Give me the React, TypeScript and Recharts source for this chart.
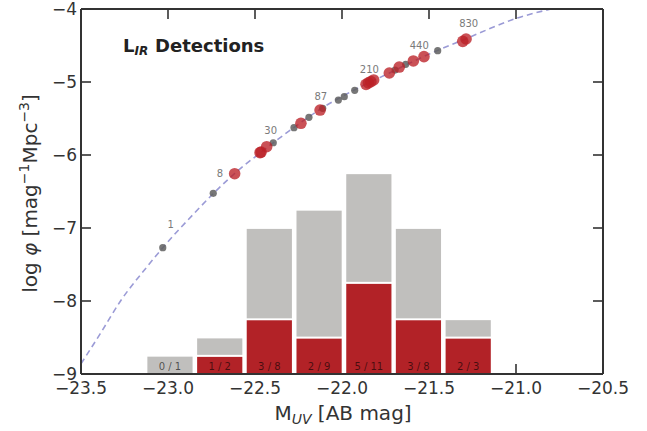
import React from "react";
import { ComposedChart, XAxis, YAxis, Bar, Line, Scatter } from "recharts";

// Histogram bins (M_UV centers) and counts
const binCenters = [-22.987, -22.701, -22.416, -22.13, -21.844, -21.559, -21.273];
const detectedCounts = [0, 1, 3, 2, 5, 3, 2];
const totalCounts = [1, 2, 8, 9, 11, 8, 3];

// Dashed luminosity function curve
const curveM = [-23.5, -23.39, -23.27, -23.12, -23.03, -22.85, -22.74, -22.62, -22.47, -22.28, -22.13, -21.93, -21.73, -21.53, -21.29, -21.0, -20.8];
const curvePhi = [-8.86, -8.45, -7.99, -7.53, -7.27, -6.8, -6.53, -6.26, -5.97, -5.63, -5.38, -5.11, -4.88, -4.65, -4.41, -4.13, -4.0];

// Gray (all) points
const grayM = [-23.03, -22.74, -22.395, -22.276, -22.19, -22.111, -22.021, -21.987, -21.927, -21.695, -21.634, -21.45];
const grayPhi = [-7.27, -6.525, -5.832, -5.626, -5.484, -5.36, -5.247, -5.201, -5.114, -4.836, -4.758, -4.571];

// Red (detected) points
const redM = [-22.617, -22.471, -22.465, -22.433, -22.236, -22.126, -21.862, -21.848, -21.834, -21.818, -21.728, -21.671, -21.59, -21.529, -21.306, -21.287];
const redPhi = [-6.256, -5.968, -5.96, -5.886, -5.566, -5.384, -5.032, -5.012, -4.995, -4.972, -4.877, -4.795, -4.712, -4.653, -4.443, -4.411];

// Annotation labels near the curve
const annText = ["1", "8", "30", "87", "210", "440", "830"];
const annM = [-22.985, -22.701, -22.41, -22.122, -21.843, -21.556, -21.272];
const annPhi = [-6.949, -6.256, -5.671, -5.201, -4.822, -4.497, -4.205];

const xTicks = [-23.5, -23.0, -22.5, -22.0, -21.5, -21.0, -20.5];
const yTicks = [-9, -8, -7, -6, -5, -4];

const histData = binCenters.map((m, i) => ({
  m,
  det: detectedCounts[i],
  rest: totalCounts[i] - detectedCounts[i],
  label: `${detectedCounts[i]} / ${totalCounts[i]}`,
}));
const curveData = curveM.map((m, i) => ({ m, phi: curvePhi[i] }));
const grayData = grayM.map((m, i) => ({ m, phi: grayPhi[i] }));
const redData = redM.map((m, i) => ({ m, phi: redPhi[i] }));
const annData = annM.map((m, i) => ({ m, phi: annPhi[i], t: annText[i] }));

const binWidth = binCenters[1] - binCenters[0];
const underBar = (v: number) => binCenters.some((c) => Math.abs(v - c) < binWidth / 2);

const AX = "#333333";
const FONT = "DejaVu Sans, sans-serif";
const minus = (v: number, d: number) => (v < 0 ? "\u2212" : "") + Math.abs(v).toFixed(d);

const BottomTick = (p: any) => (
  <g>
    {!underBar(p.payload.value) && (
      <line x1={p.x} x2={p.x} y1={p.y} y2={p.y - 10} stroke={AX} strokeWidth={1.6} />
    )}
    <text x={p.x} y={p.y + 20} textAnchor="middle" fontSize={17} fill={AX} fontFamily={FONT}>
      {minus(p.payload.value, 1)}
    </text>
  </g>
);
const TopTick = (p: any) => (
  <line x1={p.x} x2={p.x} y1={p.y} y2={p.y + 10} stroke={AX} strokeWidth={1.6} />
);
const LeftTick = (p: any) => (
  <g>
    <line x1={p.x} x2={p.x + 10} y1={p.y} y2={p.y} stroke={AX} strokeWidth={1.6} />
    <text x={p.x - 4} y={p.y} dy="0.36em" textAnchor="end" fontSize={17} fill={AX} fontFamily={FONT}>
      {minus(p.payload.value, 0)}
    </text>
  </g>
);
const RightTick = (p: any) => (
  <line x1={p.x} x2={p.x - 10} y1={p.y} y2={p.y} stroke={AX} strokeWidth={1.6} />
);

const RedBar = (p: any) =>
  p.height > 0 ? (
    <rect x={p.x} y={p.y} width={p.width} height={p.height} fill="#b22227" stroke="#ffffff" strokeWidth={1.8} />
  ) : null;

const GrayBar = (p: any) => {
  const bottom = p.background ? p.background.y + p.background.height : p.y + p.height;
  return (
    <g>
      {p.height > 0 && (
        <rect x={p.x} y={p.y} width={p.width} height={p.height} fill="#c0bfbd" stroke="#ffffff" strokeWidth={1.8} />
      )}
      <text
        x={p.x + p.width / 2}
        y={bottom - 4}
        textAnchor="middle"
        fontSize={10}
        fill="#000"
        fillOpacity={0.6}
        fontFamily={FONT}
      >
        {p.payload.label}
      </text>
    </g>
  );
};

const GrayDot = (p: any) => <circle cx={p.cx} cy={p.cy} r={3.6} fill="#5f5f5f" fillOpacity={0.85} />;
const RedDot = (p: any) => <circle cx={p.cx} cy={p.cy} r={5.8} fill="#bb2027" fillOpacity={0.78} />;
const AnnText = (p: any) => (
  <text x={p.cx} y={p.cy} dy="0.35em" textAnchor="middle" fontSize={10} fill="#7a7a7a" fontFamily={FONT}>
    {p.payload.t}
  </text>
);
const NoShape = () => <g />;

export default function App() {
  return (
    <div style={{ position: "absolute", left: 0, top: 0, width: 647, height: 431, background: "#fff", fontFamily: FONT }}>
      <ComposedChart width={647} height={431} data={histData} margin={{ top: 0, right: 0, bottom: 0, left: 0 }}>
        <XAxis
          xAxisId="x"
          type="number"
          dataKey="m"
          domain={[-23.5, -20.5]}
          ticks={xTicks}
          height={57}
          tickSize={0}
          tickMargin={0}
          tickLine={false}
          axisLine={{ stroke: AX, strokeWidth: 2 }}
          tick={<BottomTick />}
          interval={0}
        />
        <XAxis
          xAxisId="top"
          orientation="top"
          type="number"
          dataKey="m"
          domain={[-23.5, -20.5]}
          ticks={xTicks}
          height={9}
          tickSize={0}
          tickMargin={0}
          tickLine={false}
          axisLine={{ stroke: AX, strokeWidth: 2 }}
          tick={<TopTick />}
          interval={0}
        />
        <XAxis xAxisId="bins" type="number" dataKey="m" domain={[-23.5, -20.5]} hide height={0} />
        <YAxis
          yAxisId="phi"
          type="number"
          domain={[-9, -4]}
          ticks={yTicks}
          width={81}
          tickSize={0}
          tickMargin={0}
          tickLine={false}
          axisLine={{ stroke: AX, strokeWidth: 2 }}
          tick={<LeftTick />}
          interval={0}
        />
        <YAxis
          yAxisId="right"
          orientation="right"
          type="number"
          domain={[-9, -4]}
          ticks={yTicks}
          width={44}
          tickSize={0}
          tickMargin={0}
          tickLine={false}
          axisLine={{ stroke: AX, strokeWidth: 2 }}
          tick={<RightTick />}
          interval={0}
        />
        <YAxis yAxisId="count" type="number" domain={[0, 20]} hide width={0} />

        <Bar xAxisId="bins" yAxisId="count" dataKey="det" stackId="h" fill="#b22227" barSize={47} shape={<RedBar />} isAnimationActive={false} />
        <Bar xAxisId="bins" yAxisId="count" dataKey="rest" stackId="h" fill="#c0bfbd" barSize={47} shape={<GrayBar />} isAnimationActive={false} />

        <Line
          xAxisId="x"
          yAxisId="phi"
          data={curveData}
          dataKey="phi"
          type="monotone"
          stroke="#9b9bd6"
          strokeWidth={1.6}
          strokeDasharray="6 4"
          dot={false}
          activeDot={false}
          isAnimationActive={false}
        />
        <Scatter xAxisId="top" yAxisId="right" data={curveData} dataKey="phi" shape={<NoShape />} isAnimationActive={false} />
        <Scatter xAxisId="x" yAxisId="phi" data={grayData} dataKey="phi" shape={<GrayDot />} isAnimationActive={false} />
        <Scatter xAxisId="x" yAxisId="phi" data={redData} dataKey="phi" shape={<RedDot />} isAnimationActive={false} />
        <Scatter xAxisId="x" yAxisId="phi" data={annData} dataKey="phi" shape={<AnnText />} isAnimationActive={false} />
      </ComposedChart>
      <svg width={647} height={431} style={{ position: "absolute", left: 0, top: 0, pointerEvents: "none" }}>
        <text x={123} y={52} fontSize={18} fontWeight="bold" fill="#222" fontFamily={FONT}>
          L
          <tspan fontSize={12} fontStyle="italic" dy={2.5}>IR</tspan>
        </text>
        <text x={155} y={52} fontSize={18} fontWeight="bold" fill="#222" fontFamily={FONT}>
          Detections
        </text>
        <text x={343} y={420} textAnchor="middle" fontSize={20} fill={AX} fontFamily={FONT}>
          M
          <tspan fontSize={14} fontStyle="italic" dy={4}>UV</tspan>
          <tspan dy={-4}> [AB mag]</tspan>
        </text>
        <text x={37} y={193.5} transform="rotate(-90, 37, 193.5)" textAnchor="middle" fontSize={20} fill={AX} fontFamily={FONT}>
          log <tspan fontStyle="italic">φ</tspan> [mag
          <tspan fontSize={14} dy={-8}>−1</tspan>
          <tspan dy={8}>Mpc</tspan>
          <tspan fontSize={14} dy={-8}>−3</tspan>
          <tspan dy={8}>]</tspan>
        </text>
      </svg>
    </div>
  );
}
